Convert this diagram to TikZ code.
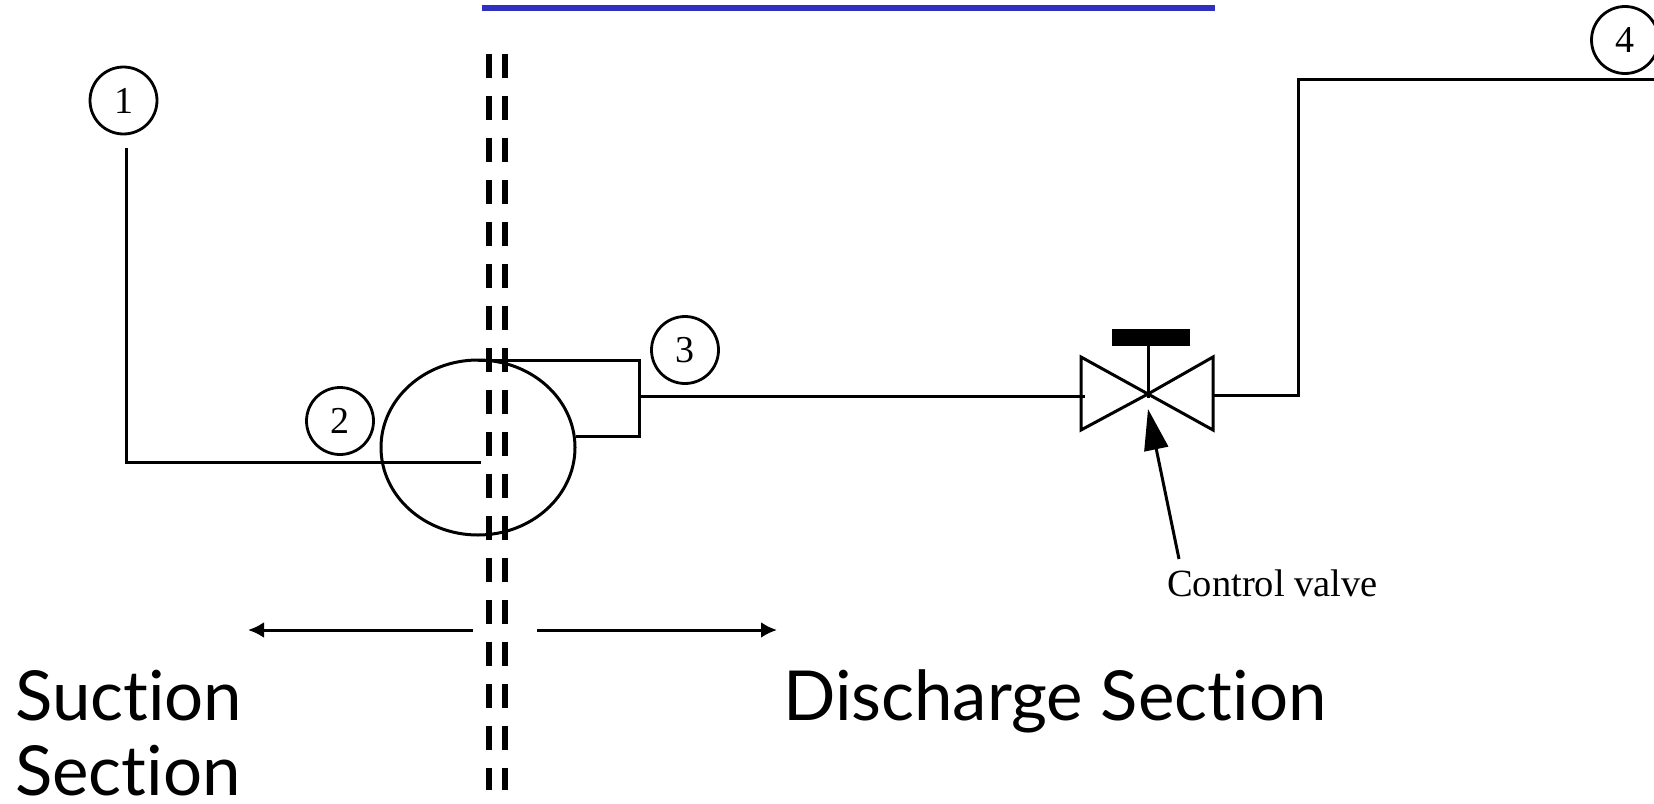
\documentclass[tikz,border=0pt]{standalone}
\usepackage{fontspec}
\setmainfont{Liberation Serif}
\newfontfamily\handfont[Ligatures=NoCommon]{Lato}
\usetikzlibrary{arrows.meta,shapes.geometric}
\definecolor{barblue}{RGB}{48,48,192}
\tikzset{
  pipe/.style={draw=black,line width=3pt,line cap=butt,line join=miter},
  tag/.style={circle,draw=black,line width=2.8pt,minimum size=67pt,inner sep=0pt,font=\fontsize{38}{38}\selectfont},
  divider/.style={draw=black,line width=6pt,dash pattern=on 24pt off 18pt},
  sectionlabel/.style={inner sep=0pt,anchor=base west,font=\handfont\fontsize{69}{69}\selectfont},
  smalllabel/.style={inner sep=0pt,anchor=base west,font=\fontsize{38.5}{38.5}\selectfont},
  span/.style={pipe,-{Latex[length=16pt,width=16pt]}},
  pointer/.style={pipe,-{Triangle[length=41pt,width=24pt]}}
}
\begin{document}
\begin{tikzpicture}[x=1pt,y=-1pt]
\useasboundingbox (0,0) rectangle (1654,803);
\fill[white] (0,0) rectangle (1654,803);
% blue bar
\fill[barblue] (482,5) rectangle (1215,11);
% named points
\coordinate (p1top) at (126.5,148);
\coordinate (p1low) at (126.5,462.5);
\coordinate (p1end) at (481,462.5);
\coordinate (outA) at (478,360);
\coordinate (outB) at (639,360);
\coordinate (outC) at (639,436.5);
\coordinate (outD) at (576,436.5);
\coordinate (outM) at (639,396);
\coordinate (vIn) at (1085,396);
\coordinate (vOut) at (1213,395);
\coordinate (rCorner) at (1300,395);
\coordinate (rUp) at (1298,79);
\coordinate (rEnd) at (1654,79);
\coordinate (vC) at (1148,394);
\coordinate (vStemEnd) at (1148,398);
\coordinate (spanL0) at (473,630);
\coordinate (spanL1) at (248,630);
\coordinate (spanR0) at (537,630);
\coordinate (spanR1) at (777,630);
\coordinate (divAtop) at (489,54);
\coordinate (divAbot) at (489,790);
\coordinate (divBtop) at (505,54);
\coordinate (divBbot) at (505,790);
\coordinate (ptrFrom) at (1179,559);
\coordinate (ptrTo) at (1148,409);
% pump
\node[ellipse,draw=black,line width=3pt,minimum width=194pt,minimum height=175pt,inner sep=0pt] (pump) at (478,447.5) {};
% pipes
\draw[pipe] (p1top) -- (p1low) -- (p1end);
\draw[pipe] (outA) -- (outB) -- (outC) -- (outD);
\draw[pipe] (outM) -- (vIn);
\draw[pipe] (vOut) -- (rCorner);
\draw[pipe] (rUp |- rCorner) -- (rUp) -- (rEnd);
% valve
\draw[pipe] (vC) -- (1081,357) -- (1081,430) -- cycle;
\draw[pipe] (vC) -- (1213,357) -- (1213,430) -- cycle;
\node[fill=black,minimum width=78pt,minimum height=17pt,inner sep=0pt] (handle) at (1151,337.5) {};
\draw[pipe] (vStemEnd) -- (vStemEnd |- handle.south);
% dividers
\draw[divider] (divAtop) -- (divAbot);
\draw[divider] (divBtop) -- (divBbot);
% tags
\node[tag] (t1) at (123.5,100.5) {1};
\node[tag] (t2) at (340,421) {2};
\node[tag] (t3) at (685,350) {3};
\node[tag] (t4) at (1625,40) {4};
% arrows
\draw[span] (spanL0) -- (spanL1);
\draw[span] (spanR0) -- (spanR1);
\draw[pointer] (ptrFrom) -- (ptrTo);
% text
\node[smalllabel] (cv) at (1167,596) {Control valve};
\node[sectionlabel] (s1) at (15,720) {Suction};
\node[sectionlabel] (s2) at (15,795) {Section};
\node[sectionlabel] (s3) at (783,720) {Discharge Section};
\end{tikzpicture}
\end{document}
